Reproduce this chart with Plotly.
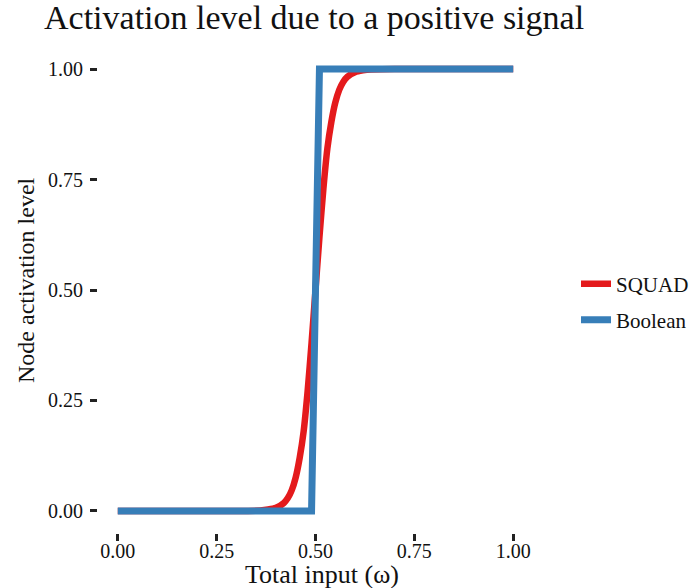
import plotly.graph_objects as go

# SQUAD activation curve
squad_x = [0.00, 0.10, 0.20, 0.30, 0.36, 0.38, 0.40, 0.42, 0.43, 0.44, 0.45, 0.46, 0.47,
           0.48, 0.49, 0.50, 0.51, 0.52, 0.53, 0.54, 0.55, 0.56, 0.57, 0.58, 0.60,
           0.62, 0.64, 0.70, 0.80, 0.90, 1.00]
squad_y = [0.000, 0.000, 0.000, 0.000, 0.001, 0.003, 0.007, 0.018, 0.029, 0.047, 0.076,
           0.120, 0.180, 0.270, 0.380, 0.500, 0.620, 0.730, 0.820, 0.880, 0.924,
           0.953, 0.971, 0.982, 0.993, 0.997, 0.999, 1.000, 1.000, 1.000, 1.000]

# Boolean step
bool_x = [0.00, 0.49, 0.51, 1.00]
bool_y = [0.0, 0.0, 1.0, 1.0]

tick_vals = [0.00, 0.25, 0.50, 0.75, 1.00]
tick_text = ["0.00", "0.25", "0.50", "0.75", "1.00"]

series_names = ["SQUAD", "Boolean"]
series_colors = ["#E41A1C", "#377EB8"]

FONT = "Liberation Serif, Times New Roman, serif"
W, H = 694, 588
L, R, T, B = 98, 161, 47, 55
PW, PH = W - L - R, H - T - B

fig = go.Figure()
fig.add_trace(go.Scatter(x=squad_x, y=squad_y, mode="lines", name=series_names[0],
                         legend="legend",
                         line=dict(color=series_colors[0], width=6.5, shape="spline",
                                   smoothing=0.6)))
fig.add_trace(go.Scatter(x=bool_x, y=bool_y, mode="lines", name=series_names[1],
                         legend="legend2",
                         line=dict(color=series_colors[1], width=7)))

axis_common = dict(
    showgrid=False, zeroline=False, showline=False,
    ticks="outside", ticklen=7, tickwidth=2.5, tickcolor="#222222",
    tickvals=tick_vals, ticktext=tick_text,
    tickfont=dict(family=FONT, size=20, color="#111111"),
)

legend_common = dict(font=dict(family=FONT, size=21, color="#111111"),
                     x=(576 - L) / PW, xanchor="left", yanchor="middle",
                     bgcolor="rgba(0,0,0,0)")

fig.update_layout(
    width=W, height=H,
    margin=dict(l=L, r=R, t=T, b=B, pad=0, autoexpand=False),
    paper_bgcolor="white", plot_bgcolor="white",
    font=dict(family=FONT, color="#111111"),
    title=dict(text="Activation level due to a positive signal",
               font=dict(family=FONT, size=34, color="#111111"),
               xref="container", yref="container",
               x=44 / W, xanchor="left", y=1 - 17 / H, yanchor="middle"),
    xaxis=dict(range=[-0.05, 1.05], ticklabelstandoff=-7, **axis_common),
    yaxis=dict(range=[-0.05, 1.05], ticklabelstandoff=3, **axis_common),
    legend=dict(y=1 - (284 - T) / PH, **legend_common),
    legend2=dict(y=1 - (320 - T) / PH, **legend_common),
    showlegend=True,
)

fig.add_annotation(text="Total input (ω)", xref="paper", yref="paper",
                   x=(322 - L) / PW, y=-(574 - (H - B)) / PH,
                   xanchor="center", yanchor="middle", showarrow=False,
                   font=dict(family=FONT, size=26, color="#111111"))
fig.add_annotation(text="Node activation level", xref="paper", yref="paper",
                   x=-(L - 26) / PW, y=1 - (280 - T) / PH,
                   xanchor="center", yanchor="middle", showarrow=False, textangle=-90,
                   font=dict(family=FONT, size=24, color="#111111"))

fig.write_html("out.html")
